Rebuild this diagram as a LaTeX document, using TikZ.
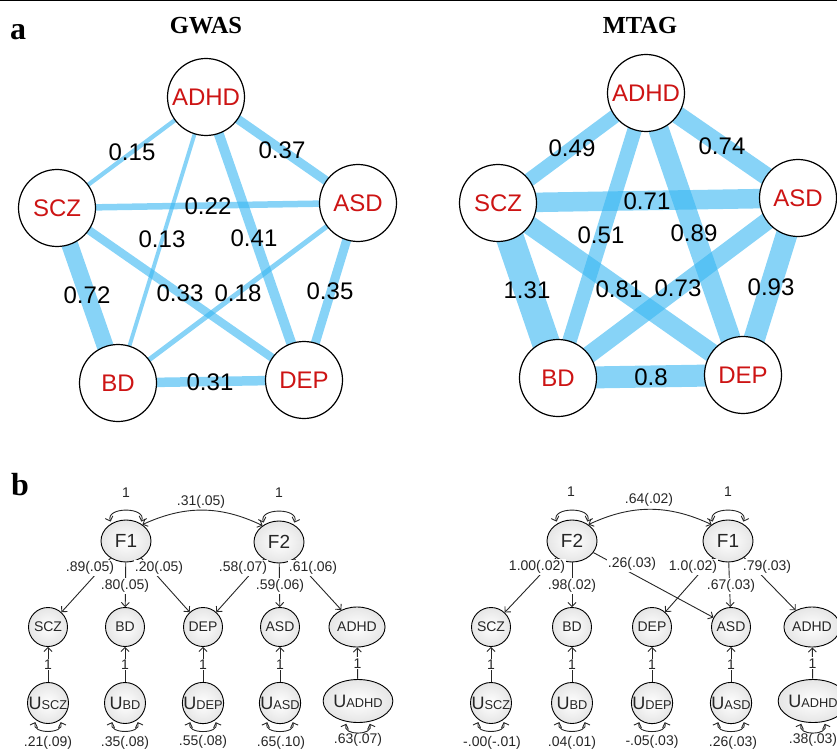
\documentclass[tikz,border=0pt]{standalone}
\usepackage{fontspec}
\setmainfont{Liberation Sans}
\newfontfamily\titlefont{Liberation Serif}
\usetikzlibrary{arrows.meta,shapes.geometric,backgrounds}
\definecolor{edgeblue}{RGB}{55,182,242}
\definecolor{nodered}{RGB}{205,20,20}
\newcommand\uLab[1]{{\fontsize{18}{17}\selectfont U}{\fontsize{12.8}{13}\selectfont #1}}
\tikzset{
  net/.style={circle, draw, line width=1.2pt, fill=white, minimum size=77pt, inner sep=0pt, text=nodered, font=\fontsize{24}{24}\selectfont},
  wt/.style={font=\fontsize{24}{24}\selectfont, inner sep=0pt},
  ed/.style={draw=edgeblue, draw opacity=0.6, line width=#1},
  paneltxt/.style={font=\titlefont\bfseries\fontsize{32}{32}\selectfont, inner sep=0pt},
  titletxt/.style={font=\titlefont\bfseries\fontsize{24.5}{25}\selectfont, inner sep=0pt},
  semnode/.style={draw, line width=0.9pt, inner sep=0pt, inner color=white, outer color=gray!20, text=black!85},
  lat/.style={semnode, ellipse, minimum width=50pt, minimum height=42pt, font=\fontsize{19}{19}\selectfont},
  obs/.style={semnode, circle, minimum size=39pt, font=\fontsize{14}{14}\selectfont},
  obsE/.style={semnode, ellipse, minimum width=48pt, minimum height=40pt, font=\fontsize{14}{14}\selectfont},
  uu/.style={semnode, circle, minimum size=41pt},
  uuE/.style={semnode, ellipse, minimum width=49pt, minimum height=43pt},
  arr/.style={-{Straight Barb[length=4pt,width=8pt]}, line width=0.9pt, draw=black!85},
  dbl/.style={{Straight Barb[length=4pt,width=8pt]}-{Straight Barb[length=4pt,width=8pt]}, line width=0.9pt, draw=black!85},
  toploop/.style={dbl, shorten <=2pt, shorten >=2pt},
  lab/.style={font=\fontsize{14}{14}\selectfont, fill=white, inner sep=1pt, text=black!85},
  num/.style={font=\fontsize{14}{14}\selectfont, inner sep=0pt, text=black!85}
}
\begin{document}
\begin{tikzpicture}[x=1pt,y=1pt]
\useasboundingbox (0,0) rectangle (837,-751);
\draw[line width=1.2pt] (0,-0.6) -- (837,-0.6);

% ---------- panel a ----------
\node[paneltxt] (pa) at (18,-32) {a};
\node[titletxt] (tg) at (206,-26) {GWAS};
\node[titletxt] (tm) at (640,-26) {MTAG};

% GWAS
\node[net] (gADHD) at (206,-97) {ADHD};
\node[net] (gSCZ) at (57,-208) {SCZ};
\node[net] (gASD) at (358,-203) {ASD};
\node[net] (gBD) at (118,-383) {BD};
\node[net] (gDEP) at (304,-380) {DEP};
\begin{scope}[on background layer]
\draw[ed=4.3pt] (gADHD.center) -- (gSCZ.center);
\draw[ed=9.1pt] (gADHD.center) -- (gASD.center);
\draw[ed=3.9pt] (gADHD.center) -- (gBD.center);
\draw[ed=10pt] (gADHD.center) -- (gDEP.center);
\draw[ed=6.5pt] (gSCZ.center) -- (gASD.center);
\draw[ed=16.8pt] (gSCZ.center) -- (gBD.center);
\draw[ed=8.3pt] (gSCZ.center) -- (gDEP.center);
\draw[ed=5pt] (gASD.center) -- (gBD.center);
\draw[ed=9pt] (gASD.center) -- (gDEP.center);
\draw[ed=9.5pt] (gBD.center) -- (gDEP.center);
\end{scope}
\node[wt] (g1) at (132,-152) {0.15};
\node[wt] (g2) at (282,-150) {0.37};
\node[wt] (g3) at (208,-206) {0.22};
\node[wt] (g4) at (162,-239) {0.13};
\node[wt] (g5) at (254,-238) {0.41};
\node[wt] (g6) at (87,-295) {0.72};
\node[wt] (g7) at (180,-293) {0.33};
\node[wt] (g8) at (238,-293) {0.18};
\node[wt] (g9) at (330,-291) {0.35};
\node[wt] (g10) at (210,-382) {0.31};

% MTAG
\node[net] (mADHD) at (646,-93) {ADHD};
\node[net] (mSCZ) at (498,-203) {SCZ};
\node[net] (mASD) at (798,-198) {ASD};
\node[net] (mBD) at (558,-378) {BD};
\node[net] (mDEP) at (743,-375) {DEP};
\begin{scope}[on background layer]
\draw[ed=14pt] (mADHD.center) -- (mSCZ.center);
\draw[ed=18pt] (mADHD.center) -- (mASD.center);
\draw[ed=14.5pt] (mADHD.center) -- (mBD.center);
\draw[ed=20.5pt] (mADHD.center) -- (mDEP.center);
\draw[ed=19.5pt] (mSCZ.center) -- (mASD.center);
\draw[ed=28pt] (mSCZ.center) -- (mBD.center);
\draw[ed=19pt] (mSCZ.center) -- (mDEP.center);
\draw[ed=17.5pt] (mASD.center) -- (mBD.center);
\draw[ed=21.5pt] (mASD.center) -- (mDEP.center);
\draw[ed=22pt] (mBD.center) -- (mDEP.center);
\end{scope}
\node[wt] (m1) at (572,-148) {0.49};
\node[wt] (m2) at (722,-146) {0.74};
\node[wt] (m3) at (647,-201) {0.71};
\node[wt] (m4) at (601,-235) {0.51};
\node[wt] (m5) at (694,-233) {0.89};
\node[wt] (m6) at (527,-290) {1.31};
\node[wt] (m7) at (619,-289) {0.81};
\node[wt] (m8) at (678,-288) {0.73};
\node[wt] (m9) at (771,-287) {0.93};
\node[wt] (m10) at (651,-377) {0.8};

% ---------- panel b ----------
\node[paneltxt] (pb) at (20,-485) {b};

% left model
\node[lat] (LF1) at (126,-541) {F1};
\node[lat] (LF2) at (279,-542) {F2};
\node[obs] (LSCZ) at (48,-627) {SCZ};
\node[obs] (LBD) at (125,-627) {BD};
\node[obs] (LDEP) at (203,-627) {DEP};
\node[obs] (LASD) at (280,-627) {ASD};
\node[obsE] (LADHD) at (357,-627) {ADHD};
\node[uu] (LUSCZ) at (48,-703) {\uLab{SCZ}};
\node[uu] (LUBD) at (125,-703) {\uLab{BD}};
\node[uu] (LUDEP) at (203,-703) {\uLab{DEP}};
\node[uu] (LUASD) at (280,-703) {\uLab{ASD}};
\node[uuE] (LUADHD) at (358,-701) {\uLab{ADHD}};

\draw[toploop] (LF1.130) .. controls +(110:18) and +(70:18) .. (LF1.50);
\draw[toploop] (LF2.130) .. controls +(110:18) and +(70:18) .. (LF2.50);
\node[num] (Lv1) at (126,-493) {1};
\node[num] (Lv2) at (279,-493) {1};
\draw[dbl] (LF1.45) to[bend left=25] (LF2.135);
\node[num] (Lcov) at (201,-502) {.31(.05)};

\draw[arr] (LF1) -- (LSCZ);
\draw[arr] (LF1) -- (LBD);
\draw[arr] (LF1) -- (LDEP);
\draw[arr] (LF2) -- (LDEP);
\draw[arr] (LF2) -- (LASD);
\draw[arr] (LF2) -- (LADHD);
\node[lab] (Ll1) at (90,-568) {.89(.05)};
\node[lab] (Ll2) at (125,-586) {.80(.05)};
\node[lab] (Ll3) at (159,-568) {.20(.05)};
\node[lab] (Ll4) at (243,-568) {.58(.07)};
\node[lab] (Ll5) at (280,-586) {.59(.06)};
\node[lab] (Ll6) at (313,-568) {.61(.06)};

\draw[arr] (LUSCZ) -- node[lab] {1} (LSCZ);
\draw[arr] (LUBD) -- node[lab] {1} (LBD);
\draw[arr] (LUDEP) -- node[lab] {1} (LDEP);
\draw[arr] (LUASD) -- node[lab] {1} (LASD);
\draw[arr] (LUADHD) -- node[lab] {1} (LADHD);

\draw[toploop] (LUSCZ.235) .. controls +(250:15) and +(290:15) .. (LUSCZ.305);
\draw[toploop] (LUBD.235) .. controls +(250:15) and +(290:15) .. (LUBD.305);
\draw[toploop] (LUDEP.235) .. controls +(250:15) and +(290:15) .. (LUDEP.305);
\draw[toploop] (LUASD.235) .. controls +(250:15) and +(290:15) .. (LUASD.305);
\draw[toploop] (LUADHD.242) .. controls +(250:15) and +(290:15) .. (LUADHD.298);
\node[num] (Lr1) at (48,-743) {.21(.09)};
\node[num] (Lr2) at (125,-743) {.35(.08)};
\node[num] (Lr3) at (203,-742) {.55(.08)};
\node[num] (Lr4) at (281,-743) {.65(.10)};
\node[num] (Lr5) at (358,-740) {.63(.07)};

% right model
\node[lat] (RF2) at (572,-541) {F2};
\node[lat] (RF1) at (728,-541) {F1};
\node[obs] (RSCZ) at (491,-627) {SCZ};
\node[obs] (RBD) at (572,-627) {BD};
\node[obs] (RDEP) at (652,-627) {DEP};
\node[obs] (RASD) at (731,-627) {ASD};
\node[obsE] (RADHD) at (812,-627) {ADHD};
\node[uu] (RUSCZ) at (491,-703) {\uLab{SCZ}};
\node[uu] (RUBD) at (572,-703) {\uLab{BD}};
\node[uu] (RUDEP) at (652,-703) {\uLab{DEP}};
\node[uu] (RUASD) at (731,-703) {\uLab{ASD}};
\node[uuE] (RUADHD) at (813,-701) {\uLab{ADHD}};

\draw[toploop] (RF2.130) .. controls +(110:18) and +(70:18) .. (RF2.50);
\draw[toploop] (RF1.130) .. controls +(110:18) and +(70:18) .. (RF1.50);
\node[num] (Rv1) at (571,-492) {1};
\node[num] (Rv2) at (728,-492) {1};
\draw[dbl] (RF2.45) to[bend left=25] (RF1.135);
\node[num] (Rcov) at (649,-500) {.64(.02)};

\draw[arr] (RF2) -- (RSCZ);
\draw[arr] (RF2) -- (RBD);
\draw[arr] (RF2) -- (RASD);
\draw[arr] (RF1) -- (RDEP);
\draw[arr] (RF1) -- (RASD);
\draw[arr] (RF1) -- (RADHD);
\node[lab] (Rl1) at (537,-567) {1.00(.02)};
\node[lab] (Rl2) at (572,-586) {.98(.02)};
\node[lab] (Rl3) at (632,-564) {.26(.03)};
\node[lab] (Rl4) at (693,-567) {1.0(.02)};
\node[lab] (Rl5) at (731,-586) {.67(.03)};
\node[lab] (Rl6) at (767,-567) {.79(.03)};

\draw[arr] (RUSCZ) -- node[lab] {1} (RSCZ);
\draw[arr] (RUBD) -- node[lab] {1} (RBD);
\draw[arr] (RUDEP) -- node[lab] {1} (RDEP);
\draw[arr] (RUASD) -- node[lab] {1} (RASD);
\draw[arr] (RUADHD) -- node[lab] {1} (RADHD);

\draw[toploop] (RUSCZ.235) .. controls +(250:15) and +(290:15) .. (RUSCZ.305);
\draw[toploop] (RUBD.235) .. controls +(250:15) and +(290:15) .. (RUBD.305);
\draw[toploop] (RUDEP.235) .. controls +(250:15) and +(290:15) .. (RUDEP.305);
\draw[toploop] (RUASD.235) .. controls +(250:15) and +(290:15) .. (RUASD.305);
\draw[toploop] (RUADHD.242) .. controls +(250:15) and +(290:15) .. (RUADHD.298);
\node[num] (Rr1) at (492,-743) {-.00(-.01)};
\node[num] (Rr2) at (572,-743) {.04(.01)};
\node[num] (Rr3) at (652,-742) {-.05(.03)};
\node[num] (Rr4) at (733,-743) {.26(.03)};
\node[num] (Rr5) at (813,-740) {.38(.03)};
\end{tikzpicture}
\end{document}
